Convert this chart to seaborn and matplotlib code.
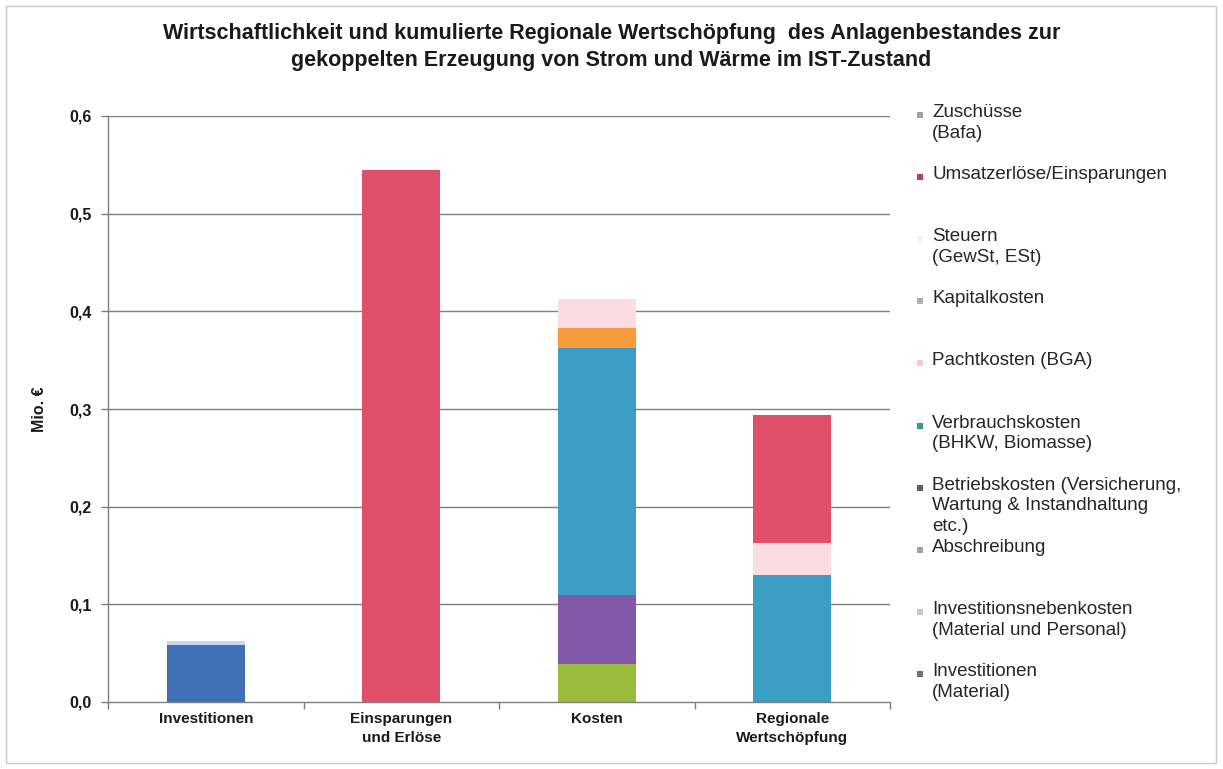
import matplotlib
matplotlib.use("Agg")
import matplotlib.pyplot as plt
from matplotlib.patches import Rectangle
import seaborn as sns
import pandas as pd
import numpy as np

# Categories on the x axis
categories = ["Investitionen", "Einsparungen\nund Erlöse", "Kosten", "Regionale\nWertschöpfung"]

# Stack components, bottom to top (Mio. €)
investitionen_material = [0.058, 0.0, 0.0, 0.0]
investitionsnebenkosten = [0.004, 0.0, 0.0, 0.0]
abschreibung = [0.0, 0.0, 0.039, 0.0]
betriebskosten = [0.0, 0.0, 0.071, 0.0]
verbrauchskosten = [0.0, 0.0, 0.252, 0.130]
pachtkosten = [0.0, 0.0, 0.021, 0.0]
kapitalkosten = [0.0, 0.0, 0.030, 0.033]
steuern = [0.0, 0.0, 0.0, 0.0]
umsatzerloese = [0.0, 0.545, 0.0, 0.131]
zuschuesse = [0.0, 0.0, 0.0, 0.0]

series = [
    ("Investitionen (Material)", investitionen_material, "#3f6fb5"),
    ("Investitionsnebenkosten", investitionsnebenkosten, "#c9d8ec"),
    ("Abschreibung", abschreibung, "#9bbb3c"),
    ("Betriebskosten", betriebskosten, "#8259a8"),
    ("Verbrauchskosten", verbrauchskosten, "#3c9dc5"),
    ("Pachtkosten", pachtkosten, "#f89b3a"),
    ("Kapitalkosten", kapitalkosten, "#fbdce3"),
    ("Steuern", steuern, "#fdf0f2"),
    ("Umsatzerlöse", umsatzerloese, "#e0506a"),
    ("Zuschüsse", zuschuesse, "#a0a0a0"),
]

# Legend entries, top to bottom, with their marker colours
legend_labels = [
    "Zuschüsse\n(Bafa)",
    "Umsatzerlöse/Einsparungen",
    "Steuern\n(GewSt, ESt)",
    "Kapitalkosten",
    "Pachtkosten (BGA)",
    "Verbrauchskosten\n(BHKW, Biomasse)",
    "Betriebskosten (Versicherung,\nWartung & Instandhaltung\netc.)",
    "Abschreibung",
    "Investitionsnebenkosten\n(Material und Personal)",
    "Investitionen\n(Material)",
]
legend_colors = ["#a0a0a0", "#b8405e", "#f2f2f2", "#b0b0b0", "#f8c8d2",
                 "#3a9a82", "#606060", "#a0a0a0", "#c8c8c8", "#707070"]

title = ("Wirtschaftlichkeit und kumulierte Regionale Wertschöpfung  des Anlagenbestandes zur\n"
         "gekoppelten Erzeugung von Strom und Wärme im IST-Zustand")
y_ticks = [0.0, 0.1, 0.2, 0.3, 0.4, 0.5, 0.6]
y_tick_labels = ["0,0", "0,1", "0,2", "0,3", "0,4", "0,5", "0,6"]

sns.set_theme(style="white")
plt.rcParams["font.family"] = ["Liberation Sans", "DejaVu Sans"]

W, H = 1223, 769
fig = plt.figure(figsize=(W / 100, H / 100), dpi=100)
ax = fig.add_axes([108 / W, 1 - 702 / H, (890 - 108) / W, (702 - 116) / H])

bottom = np.zeros(len(categories))
for name, vals, color in series:
    df = pd.DataFrame({"cat": categories, "val": vals})
    sns.barplot(data=df, x="cat", y="val", color=color, width=0.4,
                bottom=bottom, ax=ax, saturation=1, edgecolor="none",
                linewidth=0, order=categories)
    bottom = bottom + np.array(vals)

ax.set_ylim(0, 0.6)
ax.set_xlim(-0.5, len(categories) - 0.5)
ax.set_yticks(y_ticks)
ax.set_yticklabels(y_tick_labels, fontsize=11.5, fontweight="bold", color="#1a1a1a")
ax.set_xticks(range(len(categories)))
ax.set_xticklabels(categories, fontsize=11, fontweight="bold", color="#1a1a1a",
                   linespacing=1.45)
ax.set_xlabel("")
ax.set_ylabel("Mio. €", fontsize=11.5, fontweight="bold", labelpad=16, color="#1a1a1a")

# Horizontal gridlines
for t in y_ticks[1:]:
    ax.axhline(t, color="#7f7f7f", linewidth=1.0, zorder=0.5)

for s in ["top", "right"]:
    ax.spines[s].set_visible(False)
for s in ["left", "bottom"]:
    ax.spines[s].set_visible(True)
    ax.spines[s].set_color("#7f7f7f")
    ax.spines[s].set_linewidth(1.0)

ax.tick_params(axis="y", which="major", length=5, width=1, color="#7f7f7f",
               direction="out", left=True, pad=7)
ax.tick_params(axis="x", which="major", length=0, pad=7)
# Tick marks between categories on the x axis
ax.set_xticks(np.arange(-0.5, len(categories), 1.0), minor=True)
ax.tick_params(axis="x", which="minor", length=5, width=1, color="#7f7f7f",
               direction="out", bottom=True)
ax.set_axisbelow(True)

fig.suptitle(title, x=0.5, y=1 - 23 / H, va="top", fontsize=15.5, fontweight="bold",
             linespacing=1.4, color="#1a1a1a")

# Legend drawn in fixed slots beside the plot
slot_top = 104
slot_h = 62.1
for i, (lab, col) in enumerate(zip(legend_labels, legend_colors)):
    ytop = slot_top + i * slot_h
    fig.text(932 / W, 1 - ytop / H, lab, ha="left", va="top", fontsize=13.5,
             color="#262626", linespacing=1.3)
    fig.patches.append(Rectangle((917 / W, 1 - (ytop + 14) / H), 6 / W, 6 / H,
                                 transform=fig.transFigure, facecolor=col,
                                 edgecolor="none"))

# Outer frame
fig.patches.append(Rectangle((6 / W, 1 - 763 / H), (1216 - 6) / W, (763 - 6) / H,
                             transform=fig.transFigure, facecolor="none",
                             edgecolor="#c8c8c8", linewidth=1))

fig.savefig("out.png", dpi=100, facecolor="white")
